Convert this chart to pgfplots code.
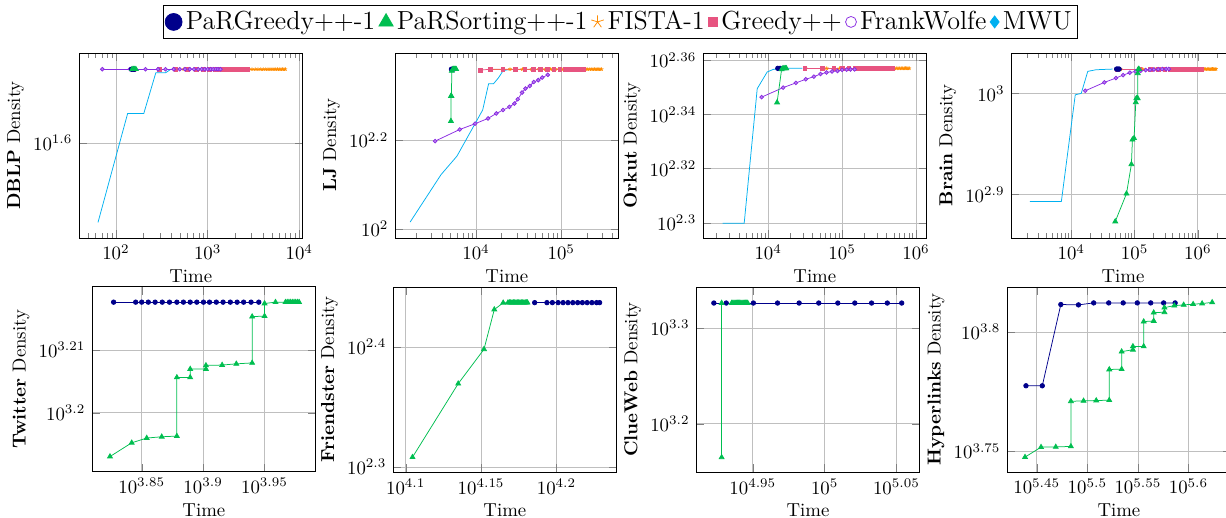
\documentclass[border=0pt]{standalone}
\usepackage{pgfplots}
\pgfplotsset{compat=1.18}

\definecolor{cPG}{RGB}{0,0,139}
\definecolor{cPS}{RGB}{0,190,80}
\definecolor{cFI}{RGB}{255,140,0}
\definecolor{cGR}{RGB}{231,84,128}
\definecolor{cFW}{RGB}{138,43,226}
\definecolor{cMW}{RGB}{0,176,240}

\tikzset{
  sPG/.style={color=cPG, mark=*, mark size=1.2pt},
  sPS/.style={color=cPS, mark=triangle*, mark size=1.5pt},
  sFI/.style={color=cFI, mark=star, mark size=1pt},
  sGR/.style={color=cGR, mark=square*, mark size=1pt},
  sFW/.style={color=cFW, mark=*, mark size=1pt, mark options={fill=cFW!60}},
  sMW/.style={color=cMW},
}

\begin{document}
\begin{tikzpicture}

% ---------- top row ----------
\begin{axis}[scale only axis, width=119pt, height=98.4pt, xmode=log, ymode=log,
  grid=major, xlabel={Time}, xlabel shift=-1.5pt, ylabel shift=-2pt,
  anchor=north west, at={(42.0pt,-28.2pt)},
  ylabel={\textbf{DBLP} Density},
  xmin=39.5, xmax=10890, ymin=25.35, ymax=61.1, ytick={39.8107},
  legend style={at={(2.42,1.168)}, anchor=center, legend columns=6,
    draw=black, font=\fontsize{13.9}{16}\selectfont, inner sep=1pt,
    /tikz/every even column/.append style={column sep=0pt}}]
\addlegendimage{only marks, color=cPG, mark=*, mark size=4.5pt}
\addlegendimage{only marks, color=cPS, mark=triangle*, mark size=4.4pt}
\addlegendimage{only marks, color=cFI, mark=star, mark size=3.5pt}
\addlegendimage{only marks, color=cGR, mark=square*, mark size=2.5pt}
\addlegendimage{only marks, color=cFW, mark=o, mark size=2.9pt}
\addlegendimage{only marks, color=cMW, mark=diamond*, mark size=3.2pt}
\legend{PaRGreedy++-1, PaRSorting++-1, FISTA-1, Greedy++, FrankWolfe, MWU}
\addplot[sMW] coordinates {(63.7,27.3)(134,45.8)(201,45.8)(272,55.6)(347,55.6)(398,56.57)};
\addplot[sFI] coordinates {(300,56.57)(550,56.57)(800,56.57)(1050,56.57)(1300,56.57)(1550,56.57)(1800,56.57)(2050,56.57)(2300,56.57)(2550,56.57)(2800,56.57)(3050,56.57)(3300,56.57)(3550,56.57)(3800,56.57)(4050,56.57)(4300,56.57)(4550,56.57)(4800,56.57)(5050,56.57)(5300,56.57)(5550,56.57)(5800,56.57)(6050,56.57)(6300,56.57)(6550,56.57)(6800,56.57)(7050,56.57)};
\addplot[sGR] coordinates {(155,56.57)(300,56.57)(450,56.57)(600,56.57)(750,56.57)(900,56.57)(1050,56.57)(1200,56.57)(1350,56.57)(1500,56.57)(1650,56.57)(1800,56.57)(1950,56.57)(2100,56.57)(2250,56.57)(2400,56.57)(2550,56.57)(2700,56.57)};
\addplot[sFW] coordinates {(71,56.57)(142,56.57)(210,56.57)(288,56.57)(347,56.57)(426,56.57)(497,56.57)(565,56.57)(640,56.57)(710,56.57)(790,56.57)(860,56.57)(930,56.57)(1000,56.57)(1080,56.57)(1150,56.57)(1230,56.57)(1300,56.57)(1380,56.57)};
\addplot[sPG] coordinates {(148,56.57)(154,56.57)(160,56.57)};
\addplot[sPS] coordinates {(150,56.57)(155,56.57)(160,56.57)(165,56.57)};
\end{axis}

\begin{axis}[scale only axis, width=119pt, height=98.4pt, xmode=log, ymode=log,
  grid=major, xlabel={Time}, xlabel shift=-1.5pt, ylabel shift=-2pt,
  anchor=north west, at={(210.1pt,-28.2pt)},
  ylabel={\textbf{LJ} Density},
  xmin=1122, xmax=472000, ymin=95.5, ymax=248.9, ytick={100,158.489}]
\addplot[sMW] coordinates {(1687,103.7)(3890,132.6)(5970,145.9)(11970,185.3)(14060,212.4)(16100,212.4)(18440,219.2)(20750,227.0)(25300,228.9)};
\addplot[sFI] coordinates {(15000,228.9)(25000,228.9)(35000,228.9)(45000,228.9)(55000,228.9)(65000,228.9)(75000,228.9)(85000,228.9)(95000,228.9)(105000,228.9)(115000,228.9)(125000,228.9)(135000,228.9)(145000,228.9)(155000,228.9)(165000,228.9)(175000,228.9)(185000,228.9)(195000,228.9)(205000,228.9)(215000,228.9)(225000,228.9)(235000,228.9)(245000,228.9)(255000,228.9)(265000,228.9)(275000,228.9)(285000,228.9)(297000,228.9)};
\addplot[sGR] coordinates {(11300,227.8)(14700,228.9)(20700,228.9)(28950,228.9)(37300,228.9)(46700,228.9)(57000,228.9)(68300,228.9)(81900,228.9)(96400,228.9)(112000,228.9)(128000,228.9)(147000,228.9)(165000,228.9)(184000,228.9)};
\addplot[sFW] coordinates {(3310,157.7)(6440,167.5)(9760,172.6)(13830,177.4)(17300,182.0)(20750,185.3)(24650,188.3)(28200,191.6)(30900,195.9)(34700,202.8)(38000,207.0)(42700,209.9)(47600,214.2)(53700,216.3)(59700,219.2)(69500,222.3)};
\addplot[sPG] coordinates {(5150,228.9)(5300,228.9)(5450,228.9)};
\addplot[sPS] coordinates {(5080,175.0)(5080,199.2)(5150,199.2)(5200,226.9)(5350,228.9)(5450,228.9)(5550,228.9)(5650,228.9)(5750,228.9)(5850,228.9)};
\end{axis}

\begin{axis}[scale only axis, width=119pt, height=98.4pt, xmode=log, ymode=log,
  grid=major, xlabel={Time}, xlabel shift=-1.5pt, ylabel shift=-2pt,
  anchor=north west, at={(373.9pt,-28.2pt)},
  ylabel={\textbf{Orkut} Density},
  xmin=1312, xmax=1396000, ymin=197.0, ymax=230.5,
  ytick={199.526,208.930,218.776,229.087}]
\addplot[sMW] coordinates {(2420,199.5)(4740,199.5)(7110,223.6)(9700,226.8)(11700,227.3)(15900,227.5)(29000,227.5)};
\addplot[sFI] coordinates {(32000,227.5)(62000,227.5)(92000,227.5)(122000,227.5)(152000,227.5)(182000,227.5)(212000,227.5)(242000,227.5)(272000,227.5)(302000,227.5)(332000,227.5)(362000,227.5)(392000,227.5)(422000,227.5)(452000,227.5)(482000,227.5)(512000,227.5)(542000,227.5)(572000,227.5)(602000,227.5)(632000,227.5)(662000,227.5)(692000,227.5)(722000,227.5)(752000,227.5)(782000,227.5)(812000,227.5)};
\addplot[sGR] coordinates {(31300,227.5)(54300,227.5)(77300,227.5)(100000,227.5)(124000,227.5)(149000,227.5)(173000,227.5)(196000,227.5)(224000,227.5)(254000,227.5)(285000,227.5)(316000,227.5)(352000,227.5)(389000,227.5)(432000,227.5)(479000,227.5)};
\addplot[sFW] coordinates {(8150,222.0)(15900,223.8)(23700,224.7)(32300,225.4)(41500,225.9)(51000,226.4)(61600,226.7)(73300,226.9)(86600,227.0)(100000,227.2)(115000,227.25)(130000,227.3)(148000,227.3)};
\addplot[sPG] coordinates {(13500,227.5)(14500,227.5)(15600,227.5)};
\addplot[sPS] coordinates {(13200,221.0)(15200,227.3)(15900,227.5)(16400,227.5)(16900,227.5)(17300,227.5)(17600,227.5)};
\end{axis}

\begin{axis}[scale only axis, width=119pt, height=98.4pt, xmode=log, ymode=log,
  grid=major, xlabel={Time}, xlabel shift=-1.5pt, ylabel shift=-2pt,
  anchor=north west, at={(537.8pt,-28.2pt)},
  ylabel={\textbf{Brain} Density},
  xmin=1119, xmax=3846000, ymin=719.5, ymax=1096.5, ytick={794.328,1000}]
\addplot[sMW] coordinates {(2220,781.6)(6960,781.6)(11550,996.8)(14350,1000)(18200,1051.5)(24600,1055.4)(44900,1057)};
\addplot[sFI] coordinates {(60000,1057)(135000,1057)(210000,1057)(285000,1057)(360000,1057)(435000,1057)(510000,1057)(585000,1057)(660000,1057)(735000,1057)(810000,1057)(885000,1057)(960000,1057)(1035000,1057)(1110000,1057)(1185000,1057)(1260000,1057)(1335000,1057)(1410000,1057)(1485000,1057)(1560000,1057)(1635000,1057)(1710000,1057)(1785000,1057)(1860000,1057)(1935000,1057)};
\addplot[sGR] coordinates {(53700,1057)(120000,1057)(180000,1057)(240000,1057)(300000,1057)(360000,1057)(420000,1057)(480000,1057)(540000,1057)(600000,1057)(660000,1057)(720000,1057)(780000,1057)(840000,1057)(900000,1057)(960000,1057)(1020000,1057)(1080000,1057)(1130000,1057)};
\addplot[sFW] coordinates {(16600,1006)(33300,1025.4)(50700,1035.6)(66000,1042.6)(84100,1048.3)(104000,1051.5)(125000,1053)(150000,1054.5)(175000,1055.5)(202000,1056)(236000,1056.5)(273000,1057)(316000,1057)(347000,1057)};
\addplot[sPG] coordinates {(52000,1057)(54500,1057)(57000,1057)};
\addplot[sPS] coordinates {(49500,747)(74500,796)(89100,851)(92500,900)(98200,903)(104500,980)(106700,989)(112000,989)(112500,1047)(115000,1057)(117000,1057)};
\end{axis}

% ---------- bottom row ----------
\begin{axis}[scale only axis, width=119pt, height=98.4pt, xmode=log, ymode=log,
  grid=major, xlabel={Time}, xlabel shift=-1.5pt, ylabel shift=-2pt,
  anchor=north west, at={(48.9pt,-152.7pt)},
  ylabel={\textbf{Twitter} Density},
  xmin=6449, xmax=9811, ymin=1551, ymax=1659.7,
  xtick={7079.46,7943.28,8912.51}, ytick={1584.89,1621.81}]
\addplot[sPG] coordinates {(6716,1650.5)(7000,1650.5)(7079,1650.5)(7168,1650.5)(7260,1650.5)(7358,1650.5)(7458,1650.5)(7562,1650.5)(7656,1650.5)(7754,1650.5)(7851,1650.5)(7949,1650.5)(8039,1650.5)(8142,1650.5)(8246,1650.5)(8359,1650.5)(8466,1650.5)(8570,1650.5)(8690,1650.5)(8817,1650.5)};
\addplot[sPS] coordinates {(6670,1559.7)(6948,1567.6)(7146,1570.3)(7350,1571.0)(7562,1571.4)(7562,1605.6)(7754,1605.6)(7754,1610.6)(7986,1610.6)(7986,1612.7)(8231,1612.9)(8453,1613.6)(8708,1614.2)(8708,1641.7)(8913,1642.0)(8913,1649.7)(9098,1650.5)(9270,1650.5)(9300,1650.5)(9330,1650.5)(9360,1650.5)(9390,1650.5)(9420,1650.5)(9450,1650.5)(9480,1650.5)(9510,1650.5)};
\end{axis}

\begin{axis}[scale only axis, width=119pt, height=98.4pt, xmode=log, ymode=log,
  grid=major, xlabel={Time}, xlabel shift=-1.5pt, ylabel shift=-2pt,
  anchor=north west, at={(209.0pt,-152.7pt)},
  ylabel={\textbf{Friendster} Density},
  xmin=12347, xmax=17378, ymin=197.6, ymax=281.8,
  xtick={12589.25,14125.38,15848.93}, ytick={199.526,251.189}]
\addplot[sPG] coordinates {(15330,273.5)(15620,273.5)(15750,273.5)(15890,273.5)(16010,273.5)(16130,273.5)(16250,273.5)(16370,273.5)(16490,273.5)(16610,273.5)(16730,273.5)(16850,273.5)(16930,273.5)};
\addplot[sPS] coordinates {(12720,203.3)(13640,234.1)(14188,250.1)(14413,269.9)(14610,273.4)(14718,273.5)(14750,273.5)(14780,273.5)(14810,273.5)(14840,273.5)(14870,273.5)(14900,273.5)(14930,273.5)(14960,273.5)(14990,273.5)(15020,273.5)(15050,273.5)(15080,273.5)(15110,273.5)(15140,273.5)(15163,273.5)};
\end{axis}

\begin{axis}[scale only axis, width=119pt, height=98.4pt, xmode=log, ymode=log,
  grid=major, xlabel={Time}, xlabel shift=-1.5pt, ylabel shift=-2pt,
  anchor=north west, at={(370.2pt,-152.7pt)},
  ylabel={\textbf{ClueWeb} Density},
  xmin=81380, xmax=116500, ymin=1411, ymax=2202,
  xtick={89125.09,100000,112201.8}, ytick={1584.89,1995.26}]
\addplot[sPG] coordinates {(83730,2119)(85410,2119)(89210,2119)(92730,2119)(96000,2119)(99060,2119)(102140,2119)(104960,2119)(107820,2119)(110580,2119)(113160,2119)};
\addplot[sPS] coordinates {(84780,1462)(84780,2119)(86160,2119)(86320,2119)(86480,2119)(86640,2119)(86800,2119)(86960,2119)(87120,2119)(87280,2119)(87440,2119)(87600,2119)(87760,2119)(87920,2119)(88080,2119)(88240,2119)(88400,2119)};
\end{axis}

\begin{axis}[scale only axis, width=119pt, height=98.4pt, xmode=log, ymode=log,
  grid=major, xlabel={Time}, xlabel shift=-1.5pt, ylabel shift=-2pt,
  anchor=north west, at={(535.6pt,-152.7pt)},
  ylabel={\textbf{Hyperlinks} Density},
  xmin=263400, xmax=438300, ymin=5512, ymax=6591,
  xtick={281838.3,316227.8,354813.4,398107.2}, ytick={5623.41,6309.57}]
\addplot[sPG] coordinates {(275000,5991)(285400,5991)(297700,6480)(309900,6478)(320800,6490)(332000,6490)(343100,6490)(354300,6490)(365300,6490)(376200,6490)(386200,6490)};
\addplot[sPS] coordinates {(274400,5592)(284600,5646)(294300,5647)(304600,5650)(304600,5902)(313500,5904)(322700,5906)(332400,5908)(332400,6086)(341900,6088)(341900,6192)(350800,6203)(350800,6223)(359500,6223)(359500,6374)(367800,6378)(367800,6430)(376900,6432)(376900,6461)(385500,6473)(393800,6478)(402300,6482)(410600,6486)(420100,6494)};
\end{axis}

\pgfresetboundingbox
\path[use as bounding box] (0pt,0pt) rectangle (652.1pt,-275.5pt);
\end{tikzpicture}
\end{document}
